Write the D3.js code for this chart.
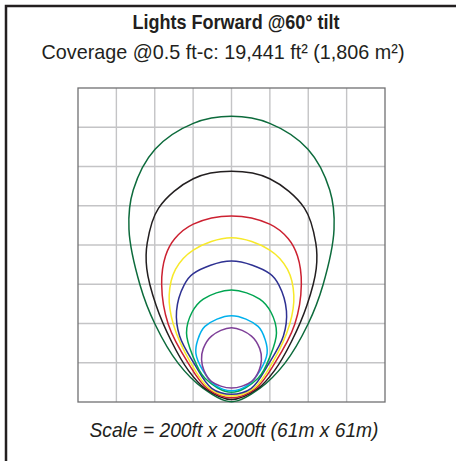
<!DOCTYPE html>
<html>
<head>
<meta charset="utf-8">
<script src="https://cdn.jsdelivr.net/npm/d3@7/dist/d3.min.js"></script>
<style>
html, body { margin: 0; padding: 0; background: #fff; }
svg { display: block; }
text { font-family: "Liberation Sans", Arial, sans-serif; fill: #231f20; }
</style>
</head>
<body>
<svg width="456" height="461"></svg>
<script>
var TITLE = 'Lights Forward @60\u00b0 tilt';
var SUBTITLE = 'Coverage @0.5 ft-c: 19,441 ft\u00b2 (1,806 m\u00b2)';
var FOOTER = 'Scale = 200ft x 200ft (61m x 61m)';

// grid lines, feet (200ft x 200ft plot, 25ft cells)
var GRID_ACROSS = [-100, -75, -50, -25, 0, 25, 50, 75, 100];
var GRID_FORWARD = [0, 25, 50, 75, 100, 125, 150, 175, 200];

// half profiles: [feet forward, half width in feet], top to bottom
var darkGreenContour = [[182, 0], [177.5, 24.9], [161, 49.8], [135, 64], [110, 66.8], [74.5, 59.6], [49.5, 49.8], [24.6, 34.7], [8.7, 18.4], [0.2, 0]];
var blackContour = [[146.9, 0], [142.2, 24.9], [123.5, 47.5], [101.3, 54.9], [85, 55.2], [61.8, 49.2], [38.4, 39], [20, 28], [8.7, 17.3], [1.6, 0]];
var redContour = [[118.5, 0], [113.3, 24.9], [104, 37], [93, 43], [75, 45.5], [49.5, 41.2], [24.6, 28.1], [8.7, 15.8], [2.7, 0]];
var yellowContour = [[104.6, 0], [96.8, 24.9], [84.5, 36.5], [68, 40.6], [49.5, 37.9], [24.6, 26.4], [8.7, 14.5], [3.8, 0]];
var blueContour = [[89.8, 0], [81.8, 24.9], [74.5, 30.9], [58, 35.8], [42, 33.8], [24.6, 24.4], [8.7, 12.9], [4.9, 0]];
var greenContour = [[71.3, 0], [65.5, 18.4], [57, 25.8], [44, 29.3], [30, 25.5], [15.1, 17.3], [6.2, 0]];
var cyanContour = [[55, 0], [48.2, 17.3], [39.5, 22], [31, 23.2], [20, 18.6], [10.8, 10.7], [7.2, 0]];
var purpleContour = [[47.3, 0], [42, 13], [34, 18.4], [27, 19.5], [20, 17.9], [13, 13], [8.9, 0]];

var contours = [darkGreenContour, blackContour, redContour, yellowContour, blueContour, greenContour, cyanContour, purpleContour];
var CONTOUR_COLORS = ['#0d6b3c', '#231f20', '#cc2131', '#f7e92a', '#2e3192', '#00a551', '#00b0ec', '#7e3f98'];

var svg = d3.select('svg');

var x = d3.scaleLinear().domain([-100, 100]).range([78, 385]);
var y = d3.scaleLinear().domain([0, 200]).range([402, 88]);

// frame (only top and left edges fall inside the picture)
svg.append('rect')
  .attr('x', 6)
  .attr('y', 6)
  .attr('width', 600)
  .attr('height', 600)
  .style('fill', 'none')
  .style('stroke', '#231f20')
  .style('stroke-width', 2.5);

// condensed look: squeeze Liberation Sans to the measured widths
function label (text, cx, cy, width) {
  return svg.append('text')
    .attr('x', cx)
    .attr('y', cy)
    .attr('text-anchor', 'middle')
    .attr('textLength', width)
    .attr('lengthAdjust', 'spacingAndGlyphs')
    .style('font-size', '21px')
    .text(text);
}

label(TITLE, 236, 29, 207).style('font-weight', 'bold');
label(SUBTITLE, 223, 59, 363);

// grid
var grid = svg.append('g');
grid.selectAll('line.v')
  .data(GRID_ACROSS.slice(1, -1))
  .enter().append('line')
  .attr('class', 'v')
  .attr('x1', function (d) { return x(d); })
  .attr('x2', function (d) { return x(d); })
  .attr('y1', y(0))
  .attr('y2', y(200));
grid.selectAll('line.h')
  .data(GRID_FORWARD.slice(1, -1))
  .enter().append('line')
  .attr('class', 'h')
  .attr('x1', x(-100))
  .attr('x2', x(100))
  .attr('y1', function (d) { return y(d); })
  .attr('y2', function (d) { return y(d); });
grid.selectAll('line')
  .style('stroke', '#c4c4c6')
  .style('stroke-width', 1.4);
grid.append('rect')
  .attr('x', x(-100))
  .attr('y', y(200))
  .attr('width', x(100) - x(-100))
  .attr('height', y(0) - y(200))
  .style('fill', 'none')
  .style('stroke', '#707072')
  .style('stroke-width', 1.3);

// mirror a half profile into a closed outline
function outline (profile) {
  var left = profile.map(function (p) { return [-p[1], p[0]]; });
  var right = profile.slice(1, -1).reverse().map(function (p) { return [p[1], p[0]]; });
  return left.concat(right);
}

var line = d3.line()
  .x(function (d) { return x(d[0]); })
  .y(function (d) { return y(d[1]); })
  .curve(d3.curveCatmullRomClosed.alpha(0.5));

svg.append('g').selectAll('path')
  .data(contours)
  .enter().append('path')
  .attr('d', function (d) { return line(outline(d)); })
  .style('fill', 'none')
  .style('stroke', function (d, i) { return CONTOUR_COLORS[i]; })
  .style('stroke-width', 1.5);

label(FOOTER, 234, 437, 289).style('font-style', 'italic');
</script>
</body>
</html>
